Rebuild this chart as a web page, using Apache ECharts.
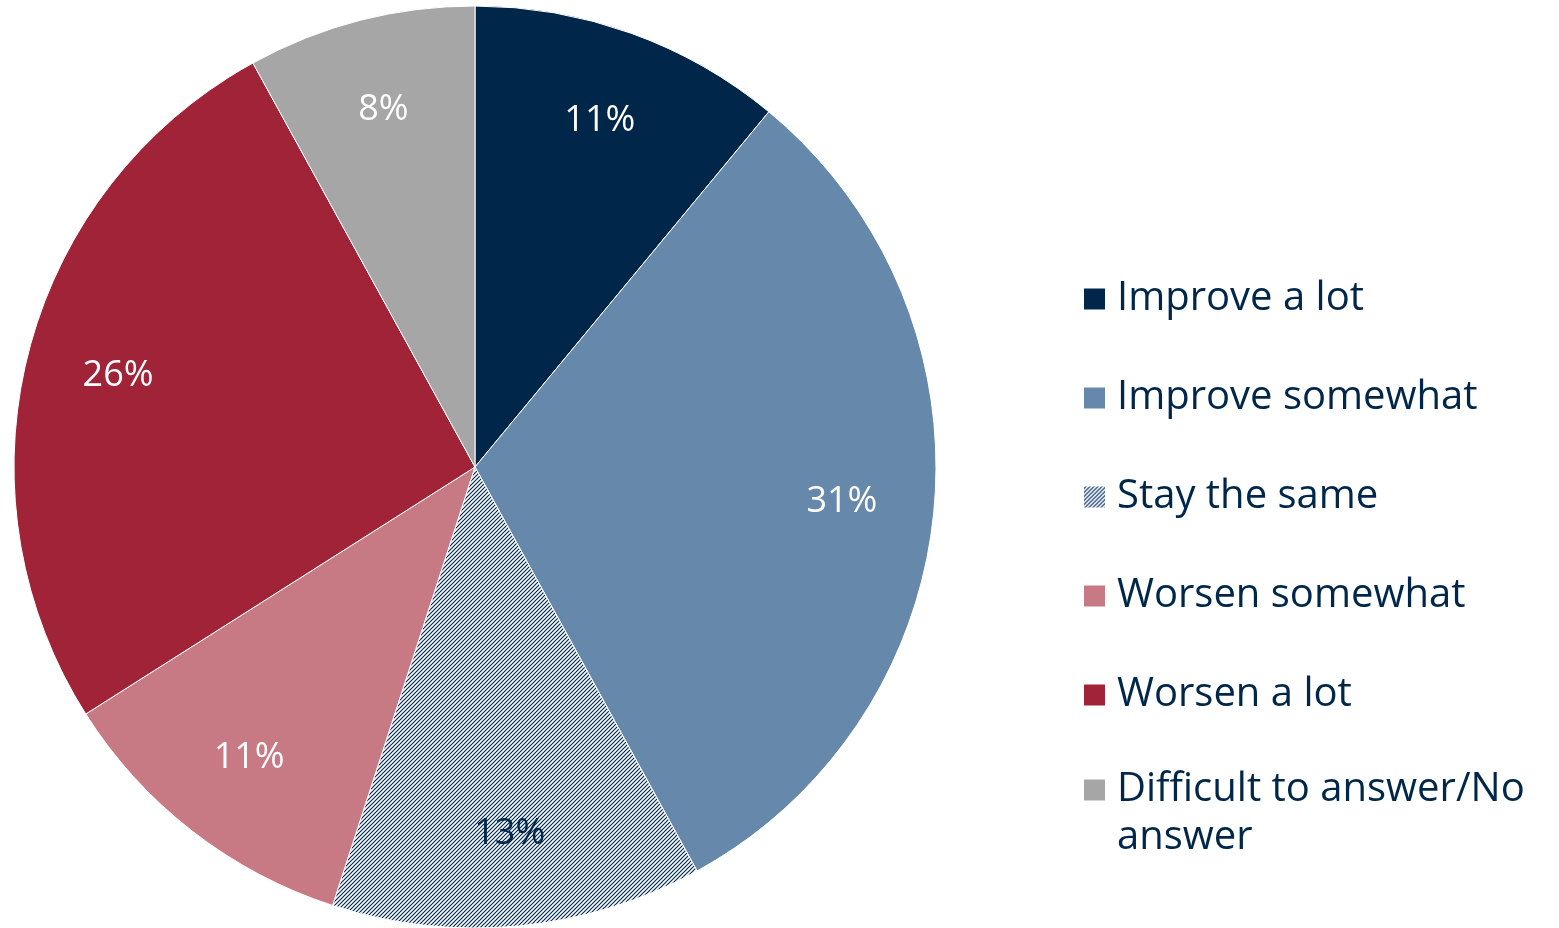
<!DOCTYPE html>
<html>
<head>
<meta charset="utf-8">
<script src="https://cdn.jsdelivr.net/npm/echarts@6/dist/echarts.min.js"></script>
<style>html,body{margin:0;padding:0;background:#fff;}#c{width:1559px;height:928px;}</style>
</head>
<body>
<div id="c"></div>
<script>
const categories = ['Improve a lot', 'Improve somewhat', 'Stay the same', 'Worsen somewhat', 'Worsen a lot', 'Difficult to answer/No answer'];
const values = [11, 31, 13, 11, 26, 8];
const labelColors = ['#ffffff', '#ffffff', '#002649', '#ffffff', '#ffffff', '#ffffff'];

function hatch() {
  const c = document.createElement('canvas');
  c.width = 4; c.height = 4;
  const g = c.getContext('2d');
  g.fillStyle = '#ffffff'; g.fillRect(0, 0, 4, 4);
  g.strokeStyle = '#002B5C'; g.lineWidth = 1.2;
  g.beginPath();
  g.moveTo(-1, 5); g.lineTo(5, -1);
  g.moveTo(-1, 1); g.lineTo(1, -1);
  g.moveTo(3, 5); g.lineTo(5, 3);
  g.stroke();
  return c;
}
const colors = ['#002649', '#6689AB', {image: hatch(), repeat: 'repeat'}, '#C87A84', '#A02337', '#A6A6A6'];

const font = '"Open Sans", sans-serif';
const chart = echarts.init(document.getElementById('c'));
const data = categories.map((n, i) => ({name: n, value: values[i], itemStyle: {color: colors[i]}}));
const labelData = categories.map((n, i) => ({name: n, value: values[i], label: {color: labelColors[i]}}));
const legendBase = {
  orient: 'vertical',
  left: 1082,
  padding: 0,
  itemWidth: 23,
  itemHeight: 23,
  itemGap: 51,
  icon: 'rect',
  textStyle: {fontFamily: font, fontSize: 40, color: '#002649', lineHeight: 48, padding: [0, 0, 0, 6]}
};
chart.setOption({
  animation: false,
  legend: [
    Object.assign({}, legendBase, {
      top: 275,
      data: categories.slice(0, 5)
    }),
    Object.assign({}, legendBase, {
      top: 718,
      formatter: n => '\nDifficult to answer/No\nanswer',
      data: categories.slice(5)
    })
  ],
  series: [{
    type: 'pie',
    center: [475, 467],
    radius: [0, 461],
    startAngle: 90,
    clockwise: true,
    label: {show: false},
    labelLine: {show: false},
    itemStyle: {borderColor: '#ffffff', borderWidth: 1},
    emphasis: {disabled: true},
    data: data
  }, {
    type: 'pie',
    center: [475, 467],
    radius: [270, 461],
    startAngle: 90,
    clockwise: true,
    silent: true,
    itemStyle: {color: 'rgba(0,0,0,0)'},
    label: {show: true, position: 'inside', formatter: '{c}%', fontFamily: font, fontSize: 36},
    labelLine: {show: false},
    emphasis: {disabled: true},
    legendHoverLink: false,
    data: labelData
  }]
});
</script>
</body>
</html>
